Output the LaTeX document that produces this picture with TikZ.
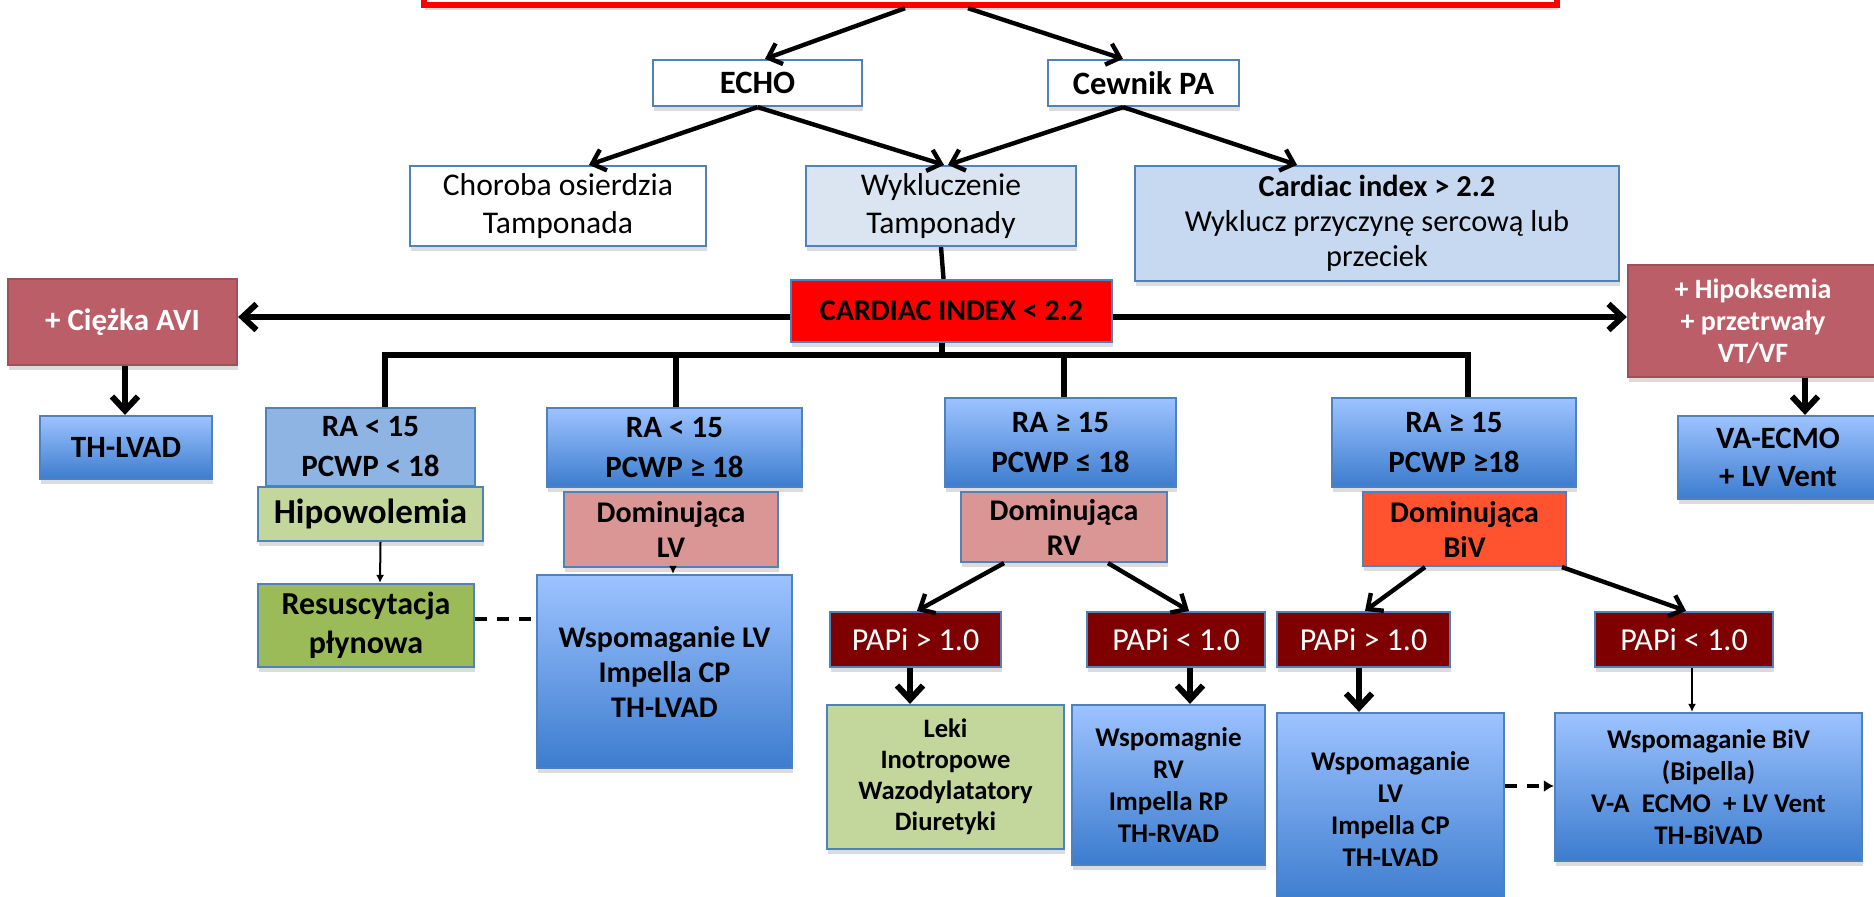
\documentclass[tikz,border=0pt]{standalone}
\usepackage{fontspec}
\setmainfont{Carlito}
\usetikzlibrary{arrows.meta,shadows}

\definecolor{edgeblue}{RGB}{79,129,189}
\definecolor{gradtop}{RGB}{157,195,255}
\definecolor{gradbot}{RGB}{60,124,206}
\definecolor{flatblue}{RGB}{142,180,227}
\definecolor{paleblue}{RGB}{219,229,241}
\definecolor{softblue}{RGB}{198,217,241}
\definecolor{lightgreen}{RGB}{195,214,155}
\definecolor{olivegreen}{RGB}{155,187,89}
\definecolor{rosepink}{RGB}{217,150,148}
\definecolor{bivorange}{RGB}{255,82,46}
\definecolor{papired}{RGB}{127,0,0}
\definecolor{mauve}{RGB}{187,94,104}

\tikzset{
  % box given by its corners x1,y1,x2,y2 (drawing units of half a point)
  corners/.style args={#1,#2,#3,#4}{at={({(#1+#3)/2},{(#2+#4)/2})},
    minimum width={(#3-#1)*0.5pt}, minimum height={(#4-#2)*0.5pt}},
  basebox/.style={draw=edgeblue, line width=1.1pt, inner sep=0pt, align=center,
    font=\bfseries\fontsize{15}{19}\selectfont,
    drop shadow={shadow xshift=0.6pt, shadow yshift=-2.6pt, opacity=0.28}},
  whitebox/.style={basebox, fill=white},
  gradbox/.style={basebox, top color=gradtop, bottom color=gradbot},
  smalltext/.style={font=\bfseries\fontsize{13.5}{16}\selectfont},
  papibox/.style={basebox, fill=papired, text=white, font=\fontsize{16}{18}\selectfont},
  mauvebox/.style={basebox, draw=mauve!85!black, fill=mauve, text=white},
  domibox/.style={basebox, font=\bfseries\fontsize{15}{17.5}\selectfont},
  rabox/.style={font=\bfseries\fontsize{15.5}{20}\selectfont},
  arr/.style={line width=2.2pt, -{Straight Barb[length=6pt,width=11pt]}},
  bigarr/.style={line width=3pt, -{Straight Barb[length=7pt,width=13pt]}},
  thinarr/.style={line width=1pt, -{Latex[length=4pt,width=4pt]}},
  bus/.style={line width=3pt},
  dasharr/.style={line width=2pt, dash pattern=on 6pt off 5pt},
}

\begin{document}
\begin{tikzpicture}[x=0.5pt,y=-0.5pt]
\useasboundingbox (0,0) rectangle (1874,896);

% title frame running off the top
\node[draw=red, line width=3.2pt, fill=white, inner sep=0pt,
  drop shadow={shadow xshift=0.6pt, shadow yshift=-2.6pt, opacity=0.28},
  corners={424,-60,1557,5}] (top) {};

% first diagnostic row
\node[whitebox, font=\bfseries\fontsize{16.3}{19}\selectfont, corners={653,60,862,106}] (echo) {ECHO};
\node[whitebox, font=\bfseries\fontsize{16.3}{19}\selectfont, corners={1048,60,1239,106}] (cewnik) {Cewnik PA};

\node[whitebox, font=\fontsize{15.8}{19}\selectfont, corners={410,166,706,246}] (chor)
  {Choroba osierdzia\\Tamponada};
\node[basebox, fill=paleblue, font=\fontsize{15.8}{19}\selectfont, corners={806,166,1076,246}] (wyk)
  {Wykluczenie\\Tamponady};
\node[basebox, fill=softblue, font=\fontsize{15.2}{17.5}\selectfont, corners={1135,166,1619,281}] (ci)
  {\textbf{Cardiac index > 2.2}\\Wyklucz przyczynę sercową lub\\przeciek};

% central split
\node[basebox, fill=red, corners={791,280,1112,342}] (cix) {CARDIAC INDEX < 2.2};
\node[mauvebox, font=\bfseries\fontsize{15.5}{19}\selectfont, corners={8,279,237,365}] (avi) {+ Ciężka AVI};
\node[mauvebox, font=\bfseries\fontsize{14}{16}\selectfont, corners={1628,265,1878,377}] (hip)
  {+ Hipoksemia\\+ przetrwały\\VT/VF};

\node[gradbox, font=\bfseries\fontsize{15.5}{19}\selectfont, corners={40,416,212,479}] (thl) {TH-LVAD};
\node[gradbox, font=\bfseries\fontsize{15.5}{19}\selectfont, corners={1678,416,1878,499}] (vae)
  {VA-ECMO\\+ LV Vent};

% haemodynamic profiles
\node[basebox, fill=flatblue, rabox, corners={266,408,475,486}] (ra1)
  {RA < 15\\PCWP < 18};
\node[gradbox, rabox, corners={547,408,802,487}] (ra2)
  {RA < 15\\PCWP ≥ 18};
\node[gradbox, rabox, corners={945,398,1176,487}] (ra3)
  {RA ≥ 15\\PCWP ≤ 18};
\node[gradbox, rabox, corners={1332,398,1576,487}] (ra4)
  {RA ≥ 15\\PCWP ≥18};

\node[basebox, fill=lightgreen, font=\bfseries\fontsize{17.5}{19}\selectfont, corners={258,487,483,541}] (hipo) {Hipowolemia};
\node[domibox, fill=rosepink, corners={564,492,778,567}] (dlv) {Dominująca\\LV};
\node[domibox, fill=rosepink, corners={961,492,1167,562}] (drv) {Dominująca\\RV};
\node[domibox, fill=bivorange, corners={1363,492,1566,566}] (dbiv) {Dominująca\\BiV};

\node[basebox, fill=olivegreen, font=\bfseries\fontsize{16}{19.5}\selectfont, corners={258,584,474,667}] (res) {Resuscytacja\\płynowa};
\node[gradbox, font=\bfseries\fontsize{15}{17.5}\selectfont, corners={537,575,792,768}] (wlv1) {Wspomaganie LV\\Impella CP\\TH-LVAD};

% PAPi split
\node[papibox, corners={830,612,1001,667}] (p1) {PAPi > 1.0};
\node[papibox, corners={1087,612,1265,667}] (p2) {PAPi < 1.0};
\node[papibox, corners={1277,612,1450,667}] (p3) {PAPi > 1.0};
\node[papibox, corners={1595,612,1773,667}] (p4) {PAPi < 1.0};

% therapy boxes
\node[basebox, fill=lightgreen, font=\bfseries\fontsize{13.3}{15.5}\selectfont, corners={827,705,1064,849}] (leki)
  {Leki\\Inotropowe\\Wazodylatatory\\Diuretyki};
\node[gradbox, smalltext, corners={1072,705,1265,865}] (wrv)
  {Wspomagnie\\RV\\Impella RP\\TH-RVAD};
\node[gradbox, smalltext, corners={1277,713,1504,905}] (wlv2)
  {Wspomaganie\\LV\\Impella CP\\TH-LVAD};
\node[gradbox, smalltext, corners={1555,713,1862,861}] (wbiv)
  {Wspomaganie BiV\\(Bipella)\\V-A~~ECMO~~+ LV Vent\\TH-BiVAD};

% connectors: upper tree
\draw[arr] ([xshift=-42.75pt]top.south) -- ([xshift=3.75pt]echo.north);
\draw[arr] ([xshift=-11.25pt]top.south) -- ([xshift=-10.25pt]cewnik.north);
\draw[arr] (echo.south) -- ([xshift=15.5pt]chor.north);
\draw[arr] (echo.south) -- ([xshift=1.5pt]wyk.north);
\draw[arr] ([xshift=-10.25pt]cewnik.south) -- ([xshift=3.5pt]wyk.north);
\draw[arr] ([xshift=-10.25pt]cewnik.south) -- ([xshift=-40pt]ci.north);
\draw[line width=2.2pt] (wyk.south) -- ([xshift=-4pt]cix.north);

% side branches
\draw[bigarr] ([yshift=-3pt]cix.west) -- ([yshift=-3pt]cix.west -| avi.east);
\draw[bigarr] ([yshift=-3pt]cix.east) -- ([yshift=-3pt]cix.east -| hip.west);
\draw[bigarr] ([xshift=1.25pt]avi.south) -- ([xshift=-0.5pt]thl.north);
\draw[bigarr] ([xshift=26pt]hip.south) -- ([xshift=13.5pt]vae.north);

% distribution bus
\draw[bus] ([xshift=7.25pt]ra1.north) -- ++(0,-52) -| ([xshift=7pt]ra4.north);
\draw[bus] ([xshift=0.75pt]ra2.north) -- ++(0,-52);
\draw[bus] ([xshift=1.75pt]ra3.north) -- ++(0,-42);
\draw[bus] ([xshift=-5pt]cix.south) -- ++(0,14);

% left column
\draw[thinarr] ([xshift=5pt]hipo.south) -- ([xshift=7pt]res.north);
\draw[thinarr] ([xshift=1pt]dlv.south) -- ([xshift=4.25pt]wlv1.north);
\draw[dasharr] ([yshift=3.25pt]res.east) -- ([yshift=26.25pt]wlv1.west);

% PAPi branches
\draw[arr] ([xshift=-30pt]drv.south) -- ([xshift=0.75pt]p1.north);
\draw[arr] ([xshift=22pt]drv.south) -- ([xshift=6.5pt]p2.north);
\draw[arr] ([xshift=-19.75pt]dbiv.south) -- ([xshift=0.75pt]p3.north);
\draw[arr] ([xshift=48.75pt]dbiv.south) -- ([xshift=1pt]p4.north);

\draw[bigarr] ([xshift=-2.75pt]p1.south) -- ([xshift=-17.75pt]leki.north);
\draw[bigarr] ([xshift=7pt]p2.south) -- ([xshift=10.75pt]wrv.north);
\draw[bigarr] ([xshift=-2.25pt]p3.south) -- ([xshift=-15.75pt]wlv2.north);
\draw[thinarr] ([xshift=4pt]p4.south) -- ([xshift=-8.25pt]wbiv.north);
\draw[dasharr, -{Latex[length=5pt,width=6pt]}] ([yshift=11.5pt]wlv2.east) -- ([yshift=0.5pt]wbiv.west);

\end{tikzpicture}
\end{document}
